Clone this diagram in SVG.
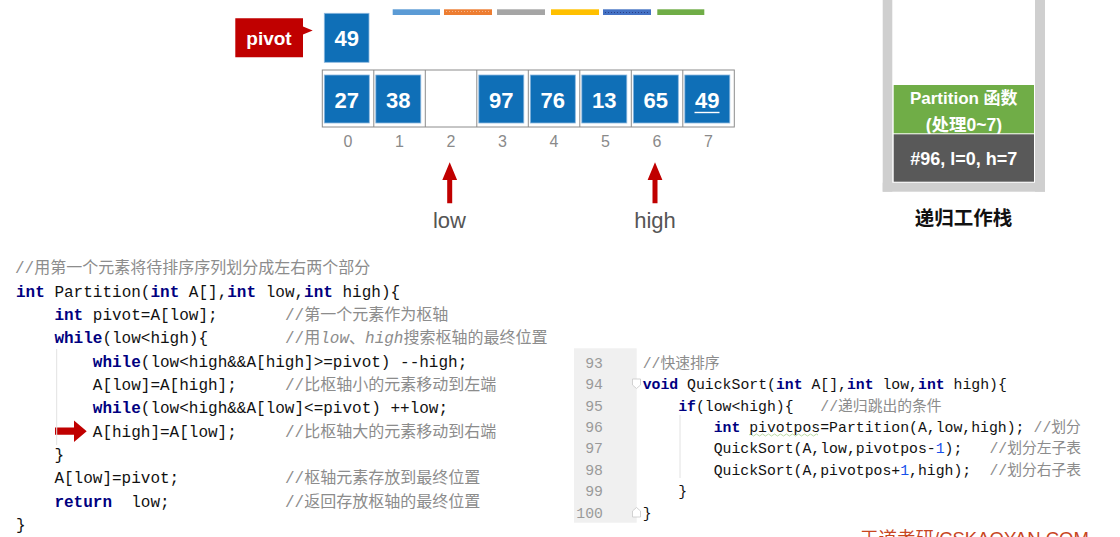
<svg xmlns="http://www.w3.org/2000/svg" width="1120" height="537" viewBox="0 0 1120 537">
<style>
.cell{fill:#0F6FB7;stroke:#8DB8DE;stroke-width:0.8}
.num{font-family:"Liberation Sans",Arial,sans-serif;font-weight:bold;font-size:22px;fill:#fff;text-anchor:middle}
.idx{font-family:"Liberation Sans",Arial,sans-serif;font-size:16px;fill:#8A8A8A;text-anchor:middle}
.frame{fill:none;stroke:#8C8C8C;stroke-width:1}
.ptr{font-family:"Liberation Sans",Arial,sans-serif;font-size:22px;fill:#555;text-anchor:middle}
.red{fill:#C00000}
.stk{font-family:"Liberation Sans","Noto Sans CJK SC",sans-serif;font-weight:bold;fill:#fff;text-anchor:middle}
.code{font-family:"Liberation Mono","Noto Sans CJK SC",monospace;font-size:16px;fill:#111}
.rcode{font-family:"Liberation Mono","Noto Sans CJK SC",monospace;font-size:14.8px;fill:#111}
.kw{fill:#000080;font-weight:bold}
.cm{fill:#8C8C8C}
.it{font-style:italic}
.n1{fill:#1750EB}
.ln{font-family:"Liberation Mono",monospace;font-size:14.8px;fill:#9A9A9A;text-anchor:end}
.wall{fill:#CFCFCF}
.guide{stroke:#E2E2E2;stroke-width:1}
</style>

<g id="legend-bars">
<rect x="392.7" y="9.3" width="47.3" height="5.7" fill="#5B9BD5"/>
<rect x="444" y="9.3" width="48" height="5.7" fill="#ED7D31"/>
<line x1="446" y1="11.5" x2="490" y2="11.5" stroke="#F6B48A" stroke-width="1" stroke-dasharray="1 2"/>
<rect x="497" y="9.3" width="48" height="5.7" fill="#A5A5A5"/>
<rect x="551" y="9.3" width="48" height="5.7" fill="#FFC000"/>
<rect x="603" y="9.3" width="48" height="5.7" fill="#4472C4"/>
<line x1="605" y1="12.5" x2="649" y2="12.5" stroke="#2A3F8A" stroke-width="1" stroke-dasharray="1 2"/>
<rect x="657.3" y="9.3" width="47" height="5.7" fill="#70AD47"/>
</g>

<g id="pivot-label">
<path class="red" d="M235.3 18.3 H303 V26.5 L312.7 30.5 L303 34.5 V57.3 H235.3 Z"/>
<text x="269" y="45" font-family="Liberation Sans,Arial,sans-serif" font-weight="bold" font-size="19" fill="#fff" text-anchor="middle">pivot</text>
</g>

<g id="pivot-box">
<rect class="cell" x="324.3" y="13.3" width="44.7" height="49"/>
<text class="num" x="346.7" y="45.8">49</text>
</g>

<g id="array">
<rect class="frame" x="322.3" y="70" width="412" height="57"/>
<g class="frame">
<line x1="373.8" y1="70" x2="373.8" y2="127"/>
<line x1="425.3" y1="70" x2="425.3" y2="127"/>
<line x1="476.8" y1="70" x2="476.8" y2="127"/>
<line x1="528.3" y1="70" x2="528.3" y2="127"/>
<line x1="579.8" y1="70" x2="579.8" y2="127"/>
<line x1="631.3" y1="70" x2="631.3" y2="127"/>
<line x1="682.8" y1="70" x2="682.8" y2="127"/>
</g>
<g id="cell-0"><rect class="cell" x="324.3" y="75" width="45" height="48"/><text class="num" x="346.8" y="107.6">27</text></g>
<g id="cell-1"><rect class="cell" x="375.8" y="75" width="45" height="48"/><text class="num" x="398.3" y="107.6">38</text></g>
<g id="cell-2"></g>
<g id="cell-3"><rect class="cell" x="478.8" y="75" width="45" height="48"/><text class="num" x="501.3" y="107.6">97</text></g>
<g id="cell-4"><rect class="cell" x="530.3" y="75" width="45" height="48"/><text class="num" x="552.8" y="107.6">76</text></g>
<g id="cell-5"><rect class="cell" x="581.8" y="75" width="45" height="48"/><text class="num" x="604.3" y="107.6">13</text></g>
<g id="cell-6"><rect class="cell" x="633.3" y="75" width="45" height="48"/><text class="num" x="655.8" y="107.6">65</text></g>
<g id="cell-7"><rect class="cell" x="684.8" y="75" width="45" height="48"/><text class="num" x="707.3" y="107.6">49</text>
<line x1="694.5" y1="112.5" x2="719.5" y2="112.5" stroke="#fff" stroke-width="1.4"/></g>
</g>

<g id="indices">
<text class="idx" x="348" y="146.7">0</text>
<text class="idx" x="399.5" y="146.7">1</text>
<text class="idx" x="451" y="146.7">2</text>
<text class="idx" x="502.5" y="146.7">3</text>
<text class="idx" x="554" y="146.7">4</text>
<text class="idx" x="605.5" y="146.7">5</text>
<text class="idx" x="657" y="146.7">6</text>
<text class="idx" x="708.5" y="146.7">7</text>
</g>

<g id="connectors">
<path class="red" d="M447.2 203.3 V180 H442.3 L449.7 162.3 L457.1 180 H452.2 V203.3 Z"/>
<path class="red" d="M652.5 203.3 V180 H647.6 L655 162.3 L662.4 180 H657.5 V203.3 Z"/>
<path class="red" d="M55 427.6 H74 V420.5 L86.7 431.2 L74 442 V434.8 H55 Z"/>
</g>

<g id="low-label"><text class="ptr" x="449.5" y="228.3">low</text></g>
<g id="high-label"><text class="ptr" x="655" y="228.3">high</text></g>

<g id="stack">
<rect class="wall" x="882.7" y="0" width="9.6" height="191.7"/>
<rect class="wall" x="1035" y="0" width="10" height="191.7"/>
<rect class="wall" x="882.7" y="182.7" width="162.3" height="9"/>
<g id="frame-partition">
<rect x="893.7" y="85" width="140.3" height="48.3" fill="#70AD47"/>
<text class="stk" x="963.8" y="104.3" font-size="17">Partition 函数</text>
<text class="stk" x="963.8" y="131" font-size="17.5">(处理0~7)</text>
</g>
<g id="frame-96">
<rect x="893.7" y="134.3" width="140.3" height="47.4" fill="#595959"/>
<text class="stk" x="963.8" y="164.8" font-size="18">#96, l=0, h=7</text>
</g>
<text x="963.5" y="225" font-family="Liberation Sans,Noto Sans CJK SC,sans-serif" font-weight="bold" font-size="19.5" fill="#111" text-anchor="middle">递归工作栈</text>
</g>

<g id="partition-code">
<line class="guide" x1="56.7" y1="349" x2="56.7" y2="445"/>
<text class="code cm" x="15" y="273.2">//用第一个元素将待排序序列划分成左右两个部分</text>
<text class="code" x="16" y="296.5" xml:space="preserve"><tspan class="kw">int</tspan> Partition(<tspan class="kw">int</tspan> A[],<tspan class="kw">int</tspan> low,<tspan class="kw">int</tspan> high){</text>
<text class="code" x="54.4" y="319.9" xml:space="preserve"><tspan class="kw">int</tspan> pivot=A[low];</text>
<text class="code cm" x="285" y="319.9">//第一个元素作为枢轴</text>
<text class="code" x="54.4" y="343.2" xml:space="preserve"><tspan class="kw">while</tspan>(low&lt;high){</text>
<text class="code cm" x="285" y="343.2">//用<tspan class="it">low</tspan>、<tspan class="it">high</tspan>搜索枢轴的最终位置</text>
<text class="code" x="92.8" y="366.5" xml:space="preserve"><tspan class="kw">while</tspan>(low&lt;high&amp;&amp;A[high]&gt;=pivot) --high;</text>
<text class="code" x="92.8" y="389.9">A[low]=A[high];</text>
<text class="code cm" x="285" y="389.9">//比枢轴小的元素移动到左端</text>
<text class="code" x="92.8" y="413.2" xml:space="preserve"><tspan class="kw">while</tspan>(low&lt;high&amp;&amp;A[low]&lt;=pivot) ++low;</text>
<text class="code" x="92.8" y="436.5">A[high]=A[low];</text>
<text class="code cm" x="285" y="436.5">//比枢轴大的元素移动到右端</text>
<text class="code" x="54.4" y="459.9">}</text>
<text class="code" x="54.4" y="483.2">A[low]=pivot;</text>
<text class="code cm" x="285" y="483.2">//枢轴元素存放到最终位置</text>
<text class="code" x="54.4" y="506.5" xml:space="preserve"><tspan class="kw">return</tspan>  low;</text>
<text class="code cm" x="285" y="506.5">//返回存放枢轴的最终位置</text>
<text class="code" x="16" y="529.9">}</text>
</g>

<g id="quicksort-code">
<rect x="574" y="348.3" width="62.7" height="174.4" fill="#F0F0F0"/>
<text class="ln" x="603" y="367.9">93</text>
<text class="ln" x="603" y="389.3">94</text>
<text class="ln" x="603" y="410.6">95</text>
<text class="ln" x="603" y="432">96</text>
<text class="ln" x="603" y="453.4">97</text>
<text class="ln" x="603" y="474.8">98</text>
<text class="ln" x="603" y="496.1">99</text>
<text class="ln" x="603" y="517.5">100</text>
<path d="M632.5 379 H640.5 V385 L636.5 388.5 L632.5 385 Z" fill="#fff" stroke="#C8C8C8" stroke-width="0.8"/>
<path d="M632.5 517 H640.5 V511 L636.5 507.5 L632.5 511 Z" fill="#fff" stroke="#C8C8C8" stroke-width="0.8"/>
<line class="guide" x1="680" y1="415" x2="680" y2="478"/>
<path d="M749 435 q1.5 -2 3 0 t3 0 t3 0 t3 0 t3 0 t3 0 t3 0 t3 0 t3 0 t3 0 t3 0 t3 0 t3 0 t3 0 t3 0 t3 0 t3 0 t3 0 t3 0 t3 0 t3 0 t3 0 t3 0" fill="none" stroke="#A9D18E" stroke-width="0.8"/>
<text class="rcode cm" x="642.7" y="367.9">//快速排序</text>
<text class="rcode" x="642.7" y="389.3" xml:space="preserve"><tspan class="kw">void</tspan> QuickSort(<tspan class="kw">int</tspan> A[],<tspan class="kw">int</tspan> low,<tspan class="kw">int</tspan> high){</text>
<text class="rcode" x="678.2" y="410.6" xml:space="preserve"><tspan class="kw">if</tspan>(low&lt;high){</text>
<text class="rcode cm" x="820.3" y="410.6">//递归跳出的条件</text>
<text class="rcode" x="713.7" y="432" xml:space="preserve"><tspan class="kw">int</tspan> pivotpos=Partition(A,low,high);</text>
<text class="rcode cm" x="1033.5" y="432">//划分</text>
<text class="rcode" x="713.7" y="453.4">QuickSort(A,low,pivotpos-<tspan class="n1">1</tspan>);</text>
<text class="rcode cm" x="989.4" y="453.4">//划分左子表</text>
<text class="rcode" x="713.7" y="474.8">QuickSort(A,pivotpos+<tspan class="n1">1</tspan>,high);</text>
<text class="rcode cm" x="989.4" y="474.8">//划分右子表</text>
<text class="rcode" x="678.2" y="496.1">}</text>
<text class="rcode" x="642.7" y="517.5">}</text>
</g>

<g id="watermark">
<text x="860" y="545" font-family="Liberation Sans,Noto Sans CJK SC,sans-serif" font-size="18.5" fill="#C8461F">王道考研/CSKAOYAN.COM</text>
</g>
</svg>
